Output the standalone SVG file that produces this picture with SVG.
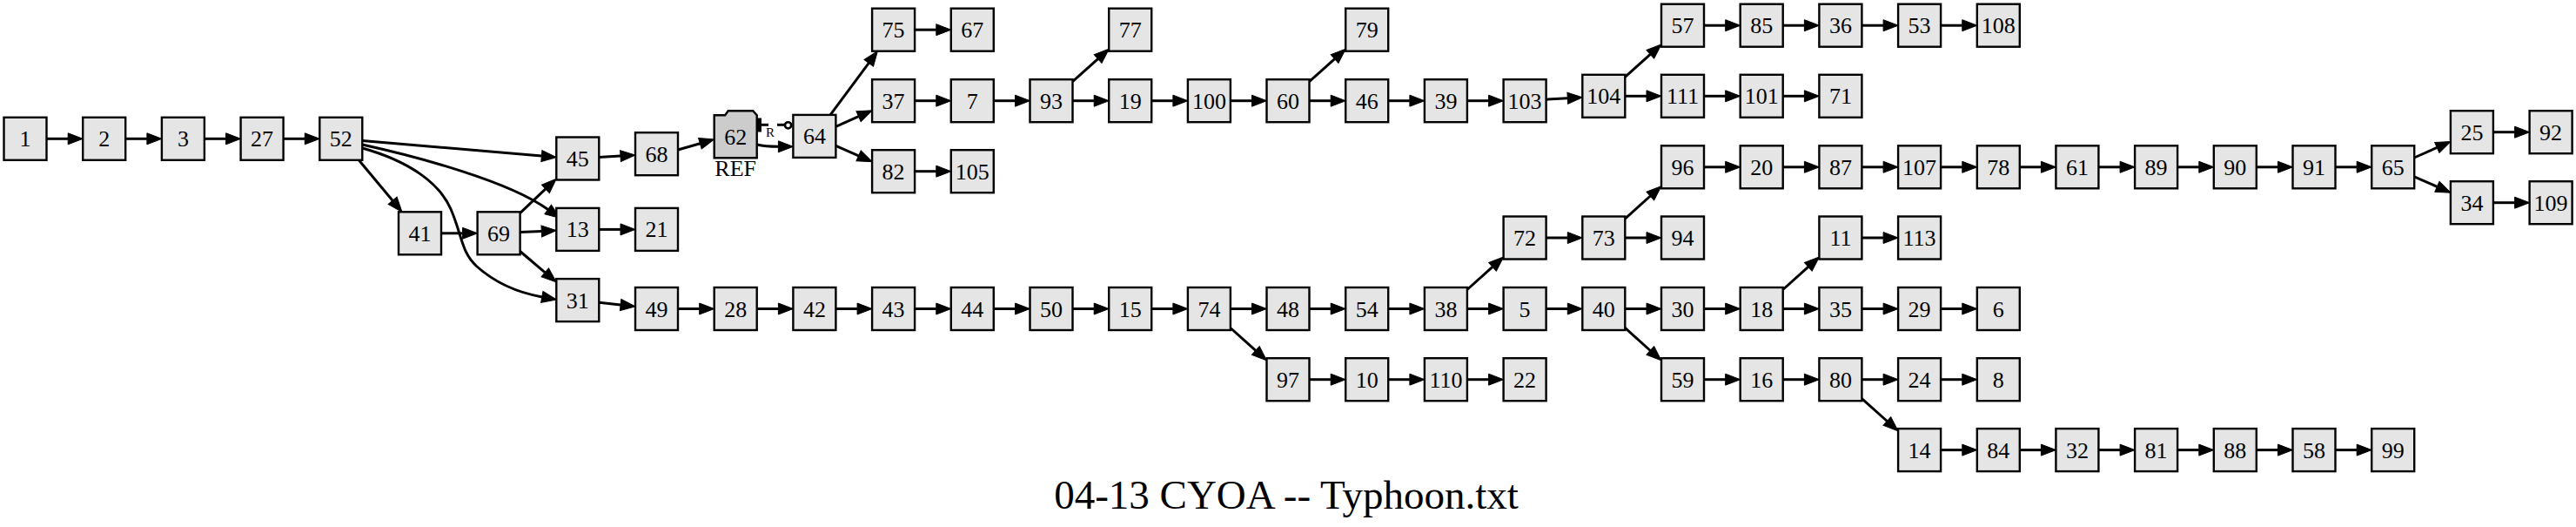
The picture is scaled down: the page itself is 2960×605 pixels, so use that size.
<svg xmlns="http://www.w3.org/2000/svg" width="2960" height="605" viewBox="0 0 2960 605">
<style>
.node rect,.node path{fill:#e5e5e5;stroke:#000;stroke-width:2.4}
.node.ref path{fill:#cccccc}
.node text,.lbl{font-family:"Liberation Serif","Times New Roman",serif;font-size:26px;text-anchor:middle;fill:#000}
.e{fill:none;stroke:#000;stroke-width:3;marker-end:url(#ah)}
.p{fill:none;stroke:#000;stroke-width:3}
.title{font-family:"Liberation Serif","Times New Roman",serif;font-size:47px;text-anchor:middle;fill:#000}
</style>
<defs>
<marker id="ah" markerWidth="17" markerHeight="13" refX="0" refY="6.5" orient="auto" markerUnits="userSpaceOnUse" viewBox="0 0 17 13" overflow="visible"><path d="M0,0 L17,6.5 L0,13 Z" fill="#000" stroke="#000" stroke-width="1"/></marker>
</defs>
<rect width="2960" height="605" fill="#fff"/>
<g id="edges">
<path class="e" d="M53.5,159.3 H78.2"/>
<path class="e" d="M144.2,159.3 H168.9"/>
<path class="e" d="M234.9,159.3 H259.6"/>
<path class="e" d="M325.6,159.3 H350.3"/>
<path class="e" d="M416.3,161.5 L622.4,179.1"/>
<path class="e" d="M416.3,166 C480,180 585,208 629.7,240.5"/>
<path class="e" d="M416.3,170 C470,185 505,210 518,240 C531,270 530,290 548,306 C566,322 590,335 622.8,340.9"/>
<path class="e" d="M412.3,183.8 L451.1,230.3"/>
<path class="e" d="M507,267.8 H531.6"/>
<path class="e" d="M597.6,244.6 L626.9,216.9"/>
<path class="e" d="M597.6,266.6 L622.3,265.4"/>
<path class="e" d="M597.6,288.5 L626.3,312.9"/>
<path class="e" d="M688.3,180.6 L713,179.1"/>
<path class="e" d="M688.3,263.4 H713"/>
<path class="e" d="M688.3,347.3 L713.1,350"/>
<path class="e" d="M779,172 L804.4,164.7"/>
<path class="e" d="M869.7,166 C878,168 886,168.3 894.4,168.3"/>
<g id="edge-62-64-R">
<rect x="869.5" y="135.5" width="5.5" height="16" fill="#000"/>
<path class="p" d="M875,143.3 H883"/>
<path class="p" d="M893,143.3 H901.5"/>
<circle cx="905.6" cy="143.8" r="3.6" fill="none" stroke="#000" stroke-width="2.6"/>
<text x="885" y="156.5" style="font-family:'Liberation Serif',serif;font-size:15px;text-anchor:middle">R</text>
</g>
<path class="e" d="M954.1,131.9 L998.3,72.3"/>
<path class="e" d="M960.4,145.4 L986.6,133.7"/>
<path class="e" d="M960.4,167.3 L986.6,178.9"/>
<path class="e" d="M1051.1,34.2 H1075.8"/>
<path class="e" d="M1051.1,115.7 H1075.8"/>
<path class="e" d="M1141.8,115.7 H1166.5"/>
<path class="e" d="M1232.5,115.7 H1257.2"/>
<path class="e" d="M1232.5,93.7 L1261.6,67.6"/>
<path class="e" d="M1323.2,115.7 H1347.9"/>
<path class="e" d="M1413.9,115.7 H1438.5"/>
<path class="e" d="M1504.5,115.7 H1529.2"/>
<path class="e" d="M1504.5,93.7 L1533.6,67.6"/>
<path class="e" d="M1595.2,115.7 H1619.9"/>
<path class="e" d="M1685.9,115.7 H1710.6"/>
<path class="e" d="M1776.6,114.2 L1801.3,112.8"/>
<path class="e" d="M1867.3,88.4 L1896.3,62.4"/>
<path class="e" d="M1051.1,196.7 H1075.8"/>
<path class="e" d="M1867.3,110.3 H1892"/>
<path class="e" d="M1958,110.3 H1982.7"/>
<path class="e" d="M2048.7,110.3 H2073.4"/>
<path class="e" d="M1958,29.2 H1982.7"/>
<path class="e" d="M2048.7,29.2 H2073.4"/>
<path class="e" d="M2139.4,29.2 H2164.1"/>
<path class="e" d="M2230.1,29.2 H2254.8"/>
<path class="e" d="M1958,191.8 H1982.7"/>
<path class="e" d="M2048.7,191.8 H2073.4"/>
<path class="e" d="M2139.4,191.8 H2164.1"/>
<path class="e" d="M2230.1,191.8 H2254.8"/>
<path class="e" d="M2320.8,191.8 H2345.4"/>
<path class="e" d="M2411.4,191.8 H2436.1"/>
<path class="e" d="M2502.1,191.8 H2526.8"/>
<path class="e" d="M2592.8,191.8 H2617.5"/>
<path class="e" d="M2683.5,191.8 H2708.2"/>
<path class="e" d="M2774.2,181 L2800.3,169.4"/>
<path class="e" d="M2774.2,202.8 L2800.4,214.3"/>
<path class="e" d="M2864.9,151.7 H2889.6"/>
<path class="e" d="M2864.9,232.7 H2889.6"/>
<path class="e" d="M1685.9,332.5 L1715,306.4"/>
<path class="e" d="M1776.6,273 H1801.3"/>
<path class="e" d="M1867.3,251.1 L1896.3,225"/>
<path class="e" d="M1867.3,273 H1892"/>
<path class="e" d="M2048.7,332.5 L2077.8,306.4"/>
<path class="e" d="M2139.4,273 H2164.1"/>
<path class="e" d="M779,354.5 H803.7"/>
<path class="e" d="M869.7,354.5 H894.4"/>
<path class="e" d="M960.4,354.5 H985.1"/>
<path class="e" d="M1051.1,354.5 H1075.8"/>
<path class="e" d="M1141.8,354.5 H1166.5"/>
<path class="e" d="M1232.5,354.5 H1257.2"/>
<path class="e" d="M1323.2,354.5 H1347.9"/>
<path class="e" d="M1413.9,354.5 H1438.5"/>
<path class="e" d="M1413.9,376.5 L1442.8,402.4"/>
<path class="e" d="M1504.5,354.5 H1529.2"/>
<path class="e" d="M1595.2,354.5 H1619.9"/>
<path class="e" d="M1685.9,354.5 H1710.6"/>
<path class="e" d="M1776.6,354.5 H1801.3"/>
<path class="e" d="M1867.3,354.5 H1892"/>
<path class="e" d="M1867.3,376.4 L1896.3,402.5"/>
<path class="e" d="M1958,354.5 H1982.7"/>
<path class="e" d="M2048.7,354.5 H2073.4"/>
<path class="e" d="M2139.4,354.5 H2164.1"/>
<path class="e" d="M2230.1,354.5 H2254.8"/>
<path class="e" d="M1504.5,435.7 H1529.2"/>
<path class="e" d="M1595.2,435.7 H1619.9"/>
<path class="e" d="M1685.9,435.7 H1710.6"/>
<path class="e" d="M1958,435.7 H1982.7"/>
<path class="e" d="M2048.7,435.7 H2073.4"/>
<path class="e" d="M2139.4,435.7 H2164.1"/>
<path class="e" d="M2139.4,457.6 L2168.4,483.5"/>
<path class="e" d="M2230.1,435.7 H2254.8"/>
<path class="e" d="M2230.1,516.6 H2254.8"/>
<path class="e" d="M2320.8,516.6 H2345.4"/>
<path class="e" d="M2411.4,516.6 H2436.1"/>
<path class="e" d="M2502.1,516.6 H2526.8"/>
<path class="e" d="M2592.8,516.6 H2617.5"/>
<path class="e" d="M2683.5,516.6 H2708.2"/>
</g>
<g id="nodes">
<g id="n1" class="node" transform="translate(29,159.3)"><rect x="-24.5" y="-24.5" width="49" height="49"/><text y="9">1</text></g>
<g id="n2" class="node" transform="translate(119.7,159.3)"><rect x="-24.5" y="-24.5" width="49" height="49"/><text y="9">2</text></g>
<g id="n3" class="node" transform="translate(210.4,159.3)"><rect x="-24.5" y="-24.5" width="49" height="49"/><text y="9">3</text></g>
<g id="n27" class="node" transform="translate(301.1,159.3)"><rect x="-24.5" y="-24.5" width="49" height="49"/><text y="9">27</text></g>
<g id="n52" class="node" transform="translate(391.8,159.3)"><rect x="-24.5" y="-24.5" width="49" height="49"/><text y="9">52</text></g>
<g id="n41" class="node" transform="translate(482.5,267.8)"><rect x="-24.5" y="-24.5" width="49" height="49"/><text y="9">41</text></g>
<g id="n69" class="node" transform="translate(573.1,267.8)"><rect x="-24.5" y="-24.5" width="49" height="49"/><text y="9">69</text></g>
<g id="n45" class="node" transform="translate(663.8,182)"><rect x="-24.5" y="-24.5" width="49" height="49"/><text y="9">45</text></g>
<g id="n13" class="node" transform="translate(663.8,263.4)"><rect x="-24.5" y="-24.5" width="49" height="49"/><text y="9">13</text></g>
<g id="n31" class="node" transform="translate(663.8,344.6)"><rect x="-24.5" y="-24.5" width="49" height="49"/><text y="9">31</text></g>
<g id="n68" class="node" transform="translate(754.5,176.7)"><rect x="-24.5" y="-24.5" width="49" height="49"/><text y="9">68</text></g>
<g id="n21" class="node" transform="translate(754.5,263.4)"><rect x="-24.5" y="-24.5" width="49" height="49"/><text y="9">21</text></g>
<g id="n49" class="node" transform="translate(754.5,354.5)"><rect x="-24.5" y="-24.5" width="49" height="49"/><text y="9">49</text></g>
<g id="n62" class="node ref" transform="translate(845.2,156.7)"><path d="M-24.5,24.5 L-24.5,-24.5 L-12,-24.5 L-8.5,-29.5 L20,-29.5 L24.5,-24.5 L24.5,24.5 Z"/><text y="9">62</text><text y="45.8">REF</text></g>
<g id="n28" class="node" transform="translate(845.2,354.5)"><rect x="-24.5" y="-24.5" width="49" height="49"/><text y="9">28</text></g>
<g id="n64" class="node" transform="translate(935.9,156.4)"><rect x="-24.5" y="-24.5" width="49" height="49"/><text y="9">64</text></g>
<g id="n42" class="node" transform="translate(935.9,354.5)"><rect x="-24.5" y="-24.5" width="49" height="49"/><text y="9">42</text></g>
<g id="n75" class="node" transform="translate(1026.6,34.2)"><rect x="-24.5" y="-24.5" width="49" height="49"/><text y="9">75</text></g>
<g id="n37" class="node" transform="translate(1026.6,115.7)"><rect x="-24.5" y="-24.5" width="49" height="49"/><text y="9">37</text></g>
<g id="n82" class="node" transform="translate(1026.6,196.7)"><rect x="-24.5" y="-24.5" width="49" height="49"/><text y="9">82</text></g>
<g id="n43" class="node" transform="translate(1026.6,354.5)"><rect x="-24.5" y="-24.5" width="49" height="49"/><text y="9">43</text></g>
<g id="n67" class="node" transform="translate(1117.3,34.2)"><rect x="-24.5" y="-24.5" width="49" height="49"/><text y="9">67</text></g>
<g id="n7" class="node" transform="translate(1117.3,115.7)"><rect x="-24.5" y="-24.5" width="49" height="49"/><text y="9">7</text></g>
<g id="n105" class="node" transform="translate(1117.3,196.7)"><rect x="-24.5" y="-24.5" width="49" height="49"/><text y="9">105</text></g>
<g id="n44" class="node" transform="translate(1117.3,354.5)"><rect x="-24.5" y="-24.5" width="49" height="49"/><text y="9">44</text></g>
<g id="n93" class="node" transform="translate(1208,115.7)"><rect x="-24.5" y="-24.5" width="49" height="49"/><text y="9">93</text></g>
<g id="n50" class="node" transform="translate(1208,354.5)"><rect x="-24.5" y="-24.5" width="49" height="49"/><text y="9">50</text></g>
<g id="n77" class="node" transform="translate(1298.7,34.2)"><rect x="-24.5" y="-24.5" width="49" height="49"/><text y="9">77</text></g>
<g id="n19" class="node" transform="translate(1298.7,115.7)"><rect x="-24.5" y="-24.5" width="49" height="49"/><text y="9">19</text></g>
<g id="n15" class="node" transform="translate(1298.7,354.5)"><rect x="-24.5" y="-24.5" width="49" height="49"/><text y="9">15</text></g>
<g id="n100" class="node" transform="translate(1389.4,115.7)"><rect x="-24.5" y="-24.5" width="49" height="49"/><text y="9">100</text></g>
<g id="n74" class="node" transform="translate(1389.4,354.5)"><rect x="-24.5" y="-24.5" width="49" height="49"/><text y="9">74</text></g>
<g id="n60" class="node" transform="translate(1480,115.7)"><rect x="-24.5" y="-24.5" width="49" height="49"/><text y="9">60</text></g>
<g id="n48" class="node" transform="translate(1480,354.5)"><rect x="-24.5" y="-24.5" width="49" height="49"/><text y="9">48</text></g>
<g id="n97" class="node" transform="translate(1480,435.7)"><rect x="-24.5" y="-24.5" width="49" height="49"/><text y="9">97</text></g>
<g id="n79" class="node" transform="translate(1570.7,34.2)"><rect x="-24.5" y="-24.5" width="49" height="49"/><text y="9">79</text></g>
<g id="n46" class="node" transform="translate(1570.7,115.7)"><rect x="-24.5" y="-24.5" width="49" height="49"/><text y="9">46</text></g>
<g id="n54" class="node" transform="translate(1570.7,354.5)"><rect x="-24.5" y="-24.5" width="49" height="49"/><text y="9">54</text></g>
<g id="n10" class="node" transform="translate(1570.7,435.7)"><rect x="-24.5" y="-24.5" width="49" height="49"/><text y="9">10</text></g>
<g id="n39" class="node" transform="translate(1661.4,115.7)"><rect x="-24.5" y="-24.5" width="49" height="49"/><text y="9">39</text></g>
<g id="n38" class="node" transform="translate(1661.4,354.5)"><rect x="-24.5" y="-24.5" width="49" height="49"/><text y="9">38</text></g>
<g id="n110" class="node" transform="translate(1661.4,435.7)"><rect x="-24.5" y="-24.5" width="49" height="49"/><text y="9">110</text></g>
<g id="n103" class="node" transform="translate(1752.1,115.7)"><rect x="-24.5" y="-24.5" width="49" height="49"/><text y="9">103</text></g>
<g id="n72" class="node" transform="translate(1752.1,273)"><rect x="-24.5" y="-24.5" width="49" height="49"/><text y="9">72</text></g>
<g id="n5" class="node" transform="translate(1752.1,354.5)"><rect x="-24.5" y="-24.5" width="49" height="49"/><text y="9">5</text></g>
<g id="n22" class="node" transform="translate(1752.1,435.7)"><rect x="-24.5" y="-24.5" width="49" height="49"/><text y="9">22</text></g>
<g id="n104" class="node" transform="translate(1842.8,110.3)"><rect x="-24.5" y="-24.5" width="49" height="49"/><text y="9">104</text></g>
<g id="n73" class="node" transform="translate(1842.8,273)"><rect x="-24.5" y="-24.5" width="49" height="49"/><text y="9">73</text></g>
<g id="n40" class="node" transform="translate(1842.8,354.5)"><rect x="-24.5" y="-24.5" width="49" height="49"/><text y="9">40</text></g>
<g id="n57" class="node" transform="translate(1933.5,29.2)"><rect x="-24.5" y="-24.5" width="49" height="49"/><text y="9">57</text></g>
<g id="n111" class="node" transform="translate(1933.5,110.3)"><rect x="-24.5" y="-24.5" width="49" height="49"/><text y="9">111</text></g>
<g id="n96" class="node" transform="translate(1933.5,191.8)"><rect x="-24.5" y="-24.5" width="49" height="49"/><text y="9">96</text></g>
<g id="n94" class="node" transform="translate(1933.5,273)"><rect x="-24.5" y="-24.5" width="49" height="49"/><text y="9">94</text></g>
<g id="n30" class="node" transform="translate(1933.5,354.5)"><rect x="-24.5" y="-24.5" width="49" height="49"/><text y="9">30</text></g>
<g id="n59" class="node" transform="translate(1933.5,435.7)"><rect x="-24.5" y="-24.5" width="49" height="49"/><text y="9">59</text></g>
<g id="n85" class="node" transform="translate(2024.2,29.2)"><rect x="-24.5" y="-24.5" width="49" height="49"/><text y="9">85</text></g>
<g id="n101" class="node" transform="translate(2024.2,110.3)"><rect x="-24.5" y="-24.5" width="49" height="49"/><text y="9">101</text></g>
<g id="n20" class="node" transform="translate(2024.2,191.8)"><rect x="-24.5" y="-24.5" width="49" height="49"/><text y="9">20</text></g>
<g id="n18" class="node" transform="translate(2024.2,354.5)"><rect x="-24.5" y="-24.5" width="49" height="49"/><text y="9">18</text></g>
<g id="n16" class="node" transform="translate(2024.2,435.7)"><rect x="-24.5" y="-24.5" width="49" height="49"/><text y="9">16</text></g>
<g id="n36" class="node" transform="translate(2114.9,29.2)"><rect x="-24.5" y="-24.5" width="49" height="49"/><text y="9">36</text></g>
<g id="n71" class="node" transform="translate(2114.9,110.3)"><rect x="-24.5" y="-24.5" width="49" height="49"/><text y="9">71</text></g>
<g id="n87" class="node" transform="translate(2114.9,191.8)"><rect x="-24.5" y="-24.5" width="49" height="49"/><text y="9">87</text></g>
<g id="n11" class="node" transform="translate(2114.9,273)"><rect x="-24.5" y="-24.5" width="49" height="49"/><text y="9">11</text></g>
<g id="n35" class="node" transform="translate(2114.9,354.5)"><rect x="-24.5" y="-24.5" width="49" height="49"/><text y="9">35</text></g>
<g id="n80" class="node" transform="translate(2114.9,435.7)"><rect x="-24.5" y="-24.5" width="49" height="49"/><text y="9">80</text></g>
<g id="n53" class="node" transform="translate(2205.6,29.2)"><rect x="-24.5" y="-24.5" width="49" height="49"/><text y="9">53</text></g>
<g id="n107" class="node" transform="translate(2205.6,191.8)"><rect x="-24.5" y="-24.5" width="49" height="49"/><text y="9">107</text></g>
<g id="n113" class="node" transform="translate(2205.6,273)"><rect x="-24.5" y="-24.5" width="49" height="49"/><text y="9">113</text></g>
<g id="n29" class="node" transform="translate(2205.6,354.5)"><rect x="-24.5" y="-24.5" width="49" height="49"/><text y="9">29</text></g>
<g id="n24" class="node" transform="translate(2205.6,435.7)"><rect x="-24.5" y="-24.5" width="49" height="49"/><text y="9">24</text></g>
<g id="n14" class="node" transform="translate(2205.6,516.6)"><rect x="-24.5" y="-24.5" width="49" height="49"/><text y="9">14</text></g>
<g id="n108" class="node" transform="translate(2296.3,29.2)"><rect x="-24.5" y="-24.5" width="49" height="49"/><text y="9">108</text></g>
<g id="n78" class="node" transform="translate(2296.3,191.8)"><rect x="-24.5" y="-24.5" width="49" height="49"/><text y="9">78</text></g>
<g id="n6" class="node" transform="translate(2296.3,354.5)"><rect x="-24.5" y="-24.5" width="49" height="49"/><text y="9">6</text></g>
<g id="n8" class="node" transform="translate(2296.3,435.7)"><rect x="-24.5" y="-24.5" width="49" height="49"/><text y="9">8</text></g>
<g id="n84" class="node" transform="translate(2296.3,516.6)"><rect x="-24.5" y="-24.5" width="49" height="49"/><text y="9">84</text></g>
<g id="n61" class="node" transform="translate(2386.9,191.8)"><rect x="-24.5" y="-24.5" width="49" height="49"/><text y="9">61</text></g>
<g id="n32" class="node" transform="translate(2386.9,516.6)"><rect x="-24.5" y="-24.5" width="49" height="49"/><text y="9">32</text></g>
<g id="n89" class="node" transform="translate(2477.6,191.8)"><rect x="-24.5" y="-24.5" width="49" height="49"/><text y="9">89</text></g>
<g id="n81" class="node" transform="translate(2477.6,516.6)"><rect x="-24.5" y="-24.5" width="49" height="49"/><text y="9">81</text></g>
<g id="n90" class="node" transform="translate(2568.3,191.8)"><rect x="-24.5" y="-24.5" width="49" height="49"/><text y="9">90</text></g>
<g id="n88" class="node" transform="translate(2568.3,516.6)"><rect x="-24.5" y="-24.5" width="49" height="49"/><text y="9">88</text></g>
<g id="n91" class="node" transform="translate(2659,191.8)"><rect x="-24.5" y="-24.5" width="49" height="49"/><text y="9">91</text></g>
<g id="n58" class="node" transform="translate(2659,516.6)"><rect x="-24.5" y="-24.5" width="49" height="49"/><text y="9">58</text></g>
<g id="n65" class="node" transform="translate(2749.7,191.8)"><rect x="-24.5" y="-24.5" width="49" height="49"/><text y="9">65</text></g>
<g id="n99" class="node" transform="translate(2749.7,516.6)"><rect x="-24.5" y="-24.5" width="49" height="49"/><text y="9">99</text></g>
<g id="n25" class="node" transform="translate(2840.4,151.7)"><rect x="-24.5" y="-24.5" width="49" height="49"/><text y="9">25</text></g>
<g id="n34" class="node" transform="translate(2840.4,232.7)"><rect x="-24.5" y="-24.5" width="49" height="49"/><text y="9">34</text></g>
<g id="n92" class="node" transform="translate(2931.1,151.7)"><rect x="-24.5" y="-24.5" width="49" height="49"/><text y="9">92</text></g>
<g id="n109" class="node" transform="translate(2931.1,232.7)"><rect x="-24.5" y="-24.5" width="49" height="49"/><text y="9">109</text></g>
</g>
<text class="title" x="1478" y="584">04-13 CYOA -- Typhoon.txt</text>
</svg>
